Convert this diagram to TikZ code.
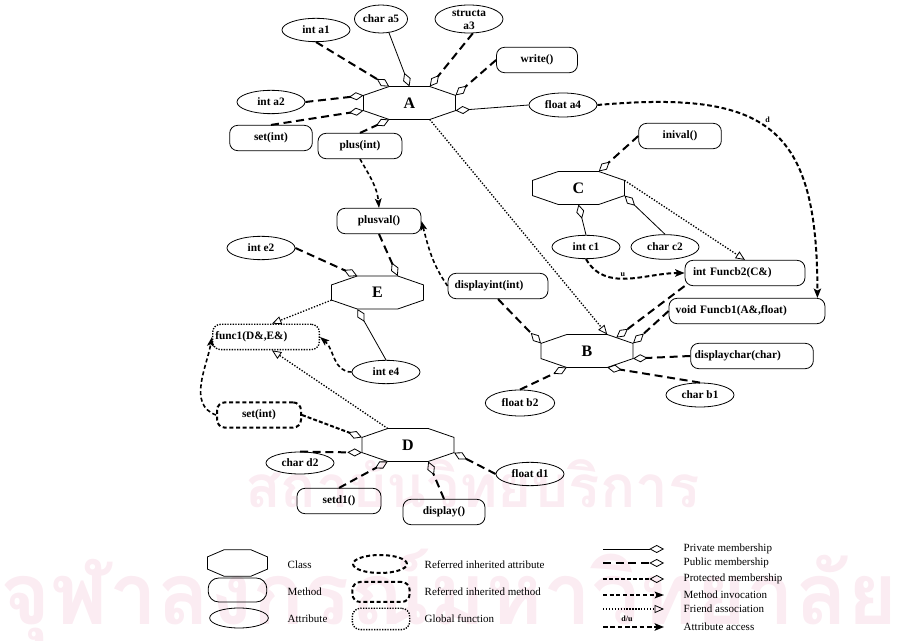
\documentclass[tikz,border=0pt]{standalone}
\usepackage{fontspec}
\setmainfont{Liberation Serif}
\newfontfamily\thaifont[Script=Thai]{Loma}
\usepackage{graphicx}
\usepackage{tikz}
\usetikzlibrary{arrows.meta,calc,shapes.geometric}
\definecolor{wmark}{RGB}{251,236,242}

\newcommand\lbl{\fontsize{8.5}{10}\selectfont\bfseries}

% class = octagon drawn round a plain box, corners named <name>-1 .. <name>-8
\newcommand\classoct[4][]{%
  \node[cls,#1] (#2) at (#3) {#4};
  \path ($(#2.north west)!.28!(#2.north east)$) coordinate (#2-1)
        ($(#2.north west)!.72!(#2.north east)$) coordinate (#2-2)
        ($(#2.north east)!.27!(#2.south east)$) coordinate (#2-3)
        ($(#2.north east)!.73!(#2.south east)$) coordinate (#2-4)
        ($(#2.south west)!.72!(#2.south east)$) coordinate (#2-5)
        ($(#2.south west)!.28!(#2.south east)$) coordinate (#2-6)
        ($(#2.north west)!.73!(#2.south west)$) coordinate (#2-7)
        ($(#2.north west)!.27!(#2.south west)$) coordinate (#2-8);
  \draw[octline] (#2-1)--(#2-2)--(#2-3)--(#2-4)--(#2-5)--(#2-6)--(#2-7)--(#2-8)--cycle;
}

\tikzset{
  cls/.style={rectangle,draw=none,minimum width=69pt,minimum height=24.75pt,
    inner sep=0pt,outer sep=0pt,font=\fontsize{12}{14}\selectfont\bfseries},
  octline/.style={line width=0.6pt},
  attr/.style={ellipse,draw,line width=0.6pt,minimum width=51pt,
    minimum height=17.5pt,inner sep=0.5pt,font=\lbl},
  method/.style={rectangle,rounded corners=6pt,draw,line width=0.6pt,
    minimum height=19pt,inner xsep=4pt,font=\lbl},
  inhmethod/.style={method,line width=1.5pt,dash pattern=on 3pt off 2pt},
  global/.style={method,line width=1pt,dash pattern=on 1pt off 1pt},
  keytext/.style={anchor=west,font=\fontsize{8.25}{10}\selectfont},
  flag/.style={font=\fontsize{6}{7}\selectfont\bfseries,inner sep=1pt},
  priv/.style={line width=0.6pt,-{Diamond[open,length=11pt,width=6pt]}},
  pub/.style={line width=1.5pt,dash pattern=on 6pt off 3.5pt,
    -{Diamond[open,length=11pt,width=6pt,line width=0.6pt]}},
  prot/.style={line width=1.5pt,dash pattern=on 3pt off 1.5pt,
    -{Diamond[open,length=11pt,width=6pt,line width=0.6pt]}},
  invoke/.style={line width=1.2pt,dash pattern=on 3pt off 2pt,
    -{Stealth[length=7pt,width=5pt,inset=1.5pt]}},
  friend/.style={line width=1pt,dash pattern=on 1pt off 1.2pt,
    -{Triangle[open,length=7pt,width=6pt,line width=0.6pt]}},
  access/.style={line width=1.5pt,dash pattern=on 3.5pt off 2pt,
    -{Stealth[length=7pt,width=5.5pt,inset=1.5pt]}},
}

\begin{document}
\begin{tikzpicture}[x=0.75pt,y=-0.75pt]
\useasboundingbox (0,0) rectangle (897,641);

% watermark
\node[anchor=base west,text=wmark,inner sep=0pt] (wm1) at (245,508)
  {\resizebox{341pt}{!}{\thaifont\bfseries สถาบันวิทยบริการ}};
\node[anchor=base west,text=wmark,inner sep=0pt] (wm2) at (0,625)
  {\resizebox{673pt}{!}{\thaifont\bfseries จุฬาลงกรณ์มหาวิทยาลัย}};

% classes
\classoct{A}{409.5,103}{A}
\classoct{C}{578.5,188}{C}
\classoct{E}{377.5,292.5}{E}
\classoct{B}{587,351}{B}
\classoct{D}{408,445}{D}

% attributes
\node[attr] (a1) at (316,30) {int a1};
\node[attr,minimum width=36pt,minimum height=21pt] (a5) at (381,19) {char a5};
\node[attr,minimum height=21pt] (a3) at (469,19)
  {\smash{\raisebox{-3pt}{\begin{tabular}[c]{@{}c@{}}structa\\a3\end{tabular}}}};
\node[attr] (a2) at (271,102) {int a2};
\node[attr,minimum height=18pt] (a4) at (563,105) {float a4};
\node[attr] (c1) at (586,247) {int c1};
\node[attr,minimum height=18.5pt] (c2) at (665,247) {char c2};
\node[attr,minimum height=18pt] (b1) at (700,395) {char b1};
\node[attr,minimum width=52pt,minimum height=19.5pt] (b2) at (520,403) {float b2};
\node[attr] (e2) at (261,248) {int e2};
\node[attr] (e4) at (386,372) {int e4};
\node[attr,minimum height=16.5pt] (d2) at (300,463) {char d2};
\node[attr] (d1) at (530,474) {float d1};

% methods
\node[method,minimum width=60.75pt] (write) at (537,60) {write()};
\node[method,minimum width=62pt] (setA) at (271,138) {set(int)};
\node[method,minimum width=63pt] (plus) at (360,146) {plus(int)};
\node[method,minimum width=62pt] (inival) at (680,136) {inival()};
\node[method,text width=78pt,align=left,inner xsep=6pt] (fb2) at (745,273) {int Funcb2(C\&)};
\node[method,text width=107pt,align=left,inner xsep=5pt] (fb1) at (747,311) {void Funcb1(A\&,float)};
\node[method,text width=86pt,align=left,inner xsep=3pt] (dc) at (752,356) {displaychar(char)};
\node[method,text width=65pt,align=left,inner xsep=5pt] (di) at (498,286) {displayint(int)};
\node[method,minimum width=63pt] (plusval) at (379,221) {plusval()};
\node[global,text width=76pt,align=left,inner xsep=2pt] (func1) at (266,337) {func1(D\&,E\&)};
\node[inhmethod,minimum width=63pt] (setD) at (259,415) {set(int)};
\node[method,minimum width=63pt] (setd1) at (339,501) {setd1()};
\node[method,minimum width=61.5pt] (display) at (444,512) {display()};

% members of A
\draw[pub] (a1.south) -- (A-1);
\draw[priv] (a5.-60) -- (A.north);
\draw[pub] (a3.-75) -- (A-2);
\draw[pub] (write.west) -- (A-3);
\draw[priv] (a4.west) -- (A-4);
\draw[pub] (a2.east) -- (A-8);
\draw[pub] (setA.north) -- (A-7);
\draw[pub] (plus.north) -- (A-6);
\draw[friend] (A-5) -- (B-2);

% members of C
\draw[pub] (inival.west) -- (C-2);
\draw[priv] (c1.north) -- (C.south);
\draw[priv] (c2.north) -- (C-4);
\draw[friend] (C-3) -- (fb2.north);
\draw[access] (c1.south) to[out=-60,in=180] node[flag,above,pos=.45] {u} (fb2.west);
\draw[access] (a4.east) to[out=5,in=90,looseness=1.5] node[flag,pos=.46,above right] {d}
  ($(fb1.north east)+(-8,0)$);

% members of E
\draw[pub] (e2.east) -- (E-1);
\draw[pub] (plusval.south) -- (E-2);
\draw[priv] (e4.north) -- (E-6);
\draw[friend] (E-7) -- ($(func1.north)+(6,0)$);
\draw[invoke] (e4.west) to[out=180,in=-40] (func1.east);
\draw[invoke] (plus.south) to[out=-60,in=95] (plusval.north);
\draw[invoke] (di.west) to[out=125,in=-75] (plusval.east);

% members of B
\draw[pub] (di.south) -- (B-8);
\draw[pub] (fb2.south west) -- ($(B-2)!.35!(B-3)$);
\draw[pub] (fb1.west) -- (B-3);
\draw[pub] (dc.west) -- (B-4);
\draw[pub] (b1.north) -- (B-5);
\draw[pub] (b2.north) -- (B-6);

% members of D
\draw[friend] (D-1) -- ($(func1.south)+(6,0)$);
\draw[prot] (setD.east) -- (D-8);
\draw[pub] (d2.north) -- (D-7);
\draw[pub] (setd1.north) -- (D-6);
\draw[pub] (display.north) -- (D-5);
\draw[pub] (d1.west) -- (D-4);
\draw[invoke] (setD.west) to[out=160,in=-100] (func1.west);

% legend: node kinds
\classoct[minimum width=45pt,minimum height=20pt]{keycls}{237.5,563}{}
\node[method,minimum width=44pt,minimum height=18pt,rounded corners=8pt] (keymth) at (237.5,590) {};
\node[attr,minimum width=44pt,minimum height=15pt] (keyatt) at (239,618) {};
\node[keytext] at (283,565) {Class};
\node[keytext] at (283,592) {Method};
\node[keytext] at (283,619) {Attribute};
\node[attr,minimum width=40.5pt,minimum height=13.5pt,line width=1.5pt,
  dash pattern=on 3pt off 2pt] (keyiatt) at (380,564) {};
\node[inhmethod,minimum width=43pt,minimum height=15pt] (keyimth) at (381,592) {};
\node[global,minimum width=43pt,minimum height=16pt] (keyglob) at (381,619) {};
\node[keytext] at (420,565) {Referred inherited attribute};
\node[keytext] at (420,592) {Referred inherited method};
\node[keytext] at (420,619) {Global function};

% legend: connector kinds
\foreach \sty/\yy/\txt [count=\i] in {priv/549/Private membership,
    pub/563/Public membership, prot/579/Protected membership,
    invoke/595/Method invocation, friend/609/Friend association,
    access/627/Attribute access} {
  \coordinate (k\i a) at (603,\yy);
  \coordinate (k\i b) at (664,\yy);
  \draw[\sty] (k\i a) -- (k\i b);
  \node[keytext] at (679,\yy) {\txt};
}
\node[flag] at (627,619) {d/u};
\end{tikzpicture}
\end{document}
